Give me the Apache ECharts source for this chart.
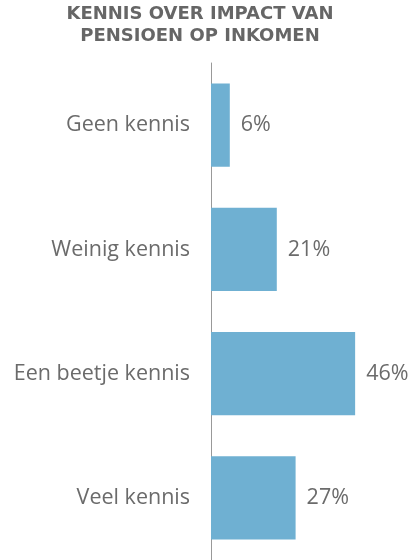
<!DOCTYPE html>
<html><head><meta charset="utf-8">
<script src="https://cdn.jsdelivr.net/npm/echarts@6/dist/echarts.min.js"></script>
<style>html,body{margin:0;padding:0;background:#fff}#c{width:411px;height:560px}</style>
</head><body><div id="c"></div>
<script>
const titleLines = ['KENNIS OVER IMPACT VAN', 'PENSIOEN OP INKOMEN'];
const categories = ['Geen kennis', 'Weinig kennis', 'Een beetje kennis', 'Veel kennis'];
const values = [6, 21, 46, 27];

const chart = echarts.init(document.getElementById('c'), null, {renderer: 'canvas'});
chart.setOption({
  animation: false,
  graphic: [{
    type: 'text', x: 200, y: 3,
    style: {
      text: titleLines.join('\n'), align: 'center', verticalAlign: 'top',
      font: 'bold 18px "DejaVu Sans"', fill: '#666666', lineHeight: 22
    }
  }],
  grid: {left: 211, top: 63, width: 188, height: 497, containLabel: false},
  xAxis: {type: 'value', min: 0, max: 60, show: false},
  yAxis: {
    type: 'category', data: categories, inverse: true,
    axisLine: {show: true, lineStyle: {color: '#999999', width: 1}},
    axisTick: {show: false},
    axisLabel: {margin: 21, fontFamily: 'Open Sans', fontSize: 21.5, color: '#6b6b6b'}
  },
  series: [{
    type: 'bar', data: values, barCategoryGap: '33%',
    itemStyle: {color: '#6fb0d2'},
    label: {show: true, position: 'right', distance: 11, formatter: '{c}%', fontFamily: 'Open Sans', fontSize: 21.5, color: '#6b6b6b'}
  }]
});
</script></body></html>
